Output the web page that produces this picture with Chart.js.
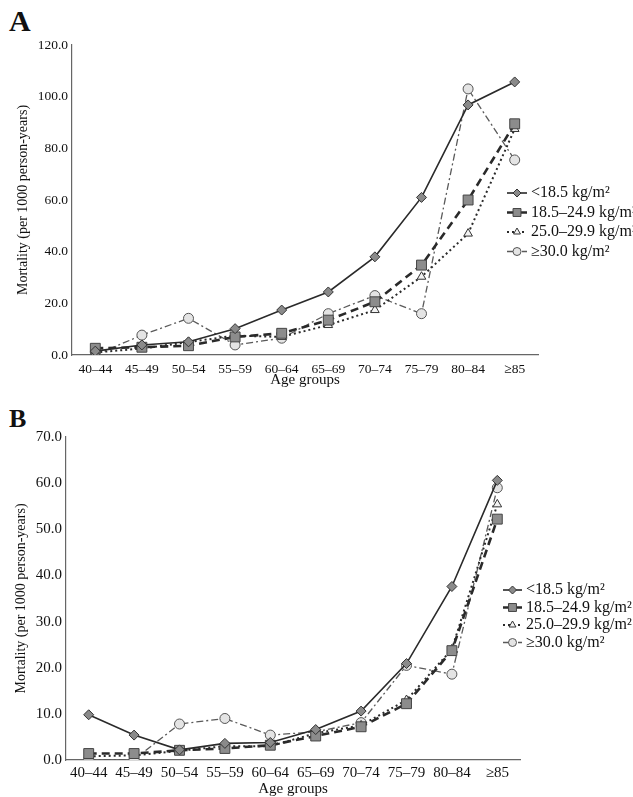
<!DOCTYPE html>
<html>
<head>
<meta charset="utf-8">
<script src="https://cdn.jsdelivr.net/npm/chart.js@4.4.1/dist/chart.umd.min.js"></script>
<style>
  html, body { margin: 0; padding: 0; background: #fff; width: 633px; height: 797px; overflow: hidden; }
  canvas { position: absolute; left: 0; }
  .panel { position: absolute; font-family: "Liberation Serif", serif; font-weight: bold; color: #111; }
</style>
</head>
<body>
<div class="panel" style="left:9px; top:4px; font-size:30px;">A</div>
<div class="panel" style="left:9px; top:404px; font-size:26px;">B</div>
<canvas id="chartA" width="633" height="395" style="top:0"></canvas>
<canvas id="chartB" width="633" height="410" style="top:395px"></canvas>
<script>
// age categories on the x axis
const ageGroups = ['40–44', '45–49', '50–54', '55–59', '60–64', '65–69', '70–74', '75–79', '80–84', '≥85'];
const bmiLabels = ['<18.5 kg/m²', '18.5–24.9 kg/m²', '25.0–29.9 kg/m²', '≥30.0 kg/m²'];

// Panel A, mortality per 1000 person-years
const underA  = [1.5, 3.9, 5.1, 10.2, 17.4, 24.4, 38.0, 61.0, 96.8, 105.7];
const normalA = [2.6, 3.0, 3.6, 7.0, 8.4, 13.5, 20.6, 34.8, 60.0, 89.5];
const overA   = [1.0, 2.5, 5.0, 7.5, 7.0, 11.6, 17.4, 30.3, 47.0, 87.5];
const obeseA  = [0.0, 7.7, 14.2, 3.9, 6.5, 16.0, 23.0, 16.0, 103.0, 75.5];

// Panel B
const underB  = [9.8, 5.4, 2.2, 3.6, 3.8, 6.6, 10.6, 20.9, 37.6, 60.6];
const normalB = [1.4, 1.4, 2.1, 2.5, 3.2, 5.2, 7.2, 12.2, 23.7, 52.2];
const overB   = [0.8, 1.0, 2.0, 3.0, 3.0, 5.8, 7.5, 13.0, 24.0, 55.4];
const obeseB  = [0.1, 0.1, 7.8, 9.0, 5.4, 6.1, 8.1, 20.5, 18.6, 59.0];

const yTitle = 'Mortality (per 1000 person-years)';
const xTitle = 'Age groups';

const FONT = '"Liberation Serif", "Times New Roman", serif';

// line / marker styles per BMI group
const styles = [
  { borderColor: '#2a2a2a', borderWidth: 1.6, borderDash: [], pointStyle: 'rectRot', pointRadius: 5, pointBackgroundColor: '#8a8a8a', pointBorderColor: '#333' },
  { borderColor: '#2a2a2a', borderWidth: 2.6, borderDash: [8, 5], pointStyle: 'rect', pointRadius: 7, pointBackgroundColor: '#8c8c8c', pointBorderColor: '#444' },
  { borderColor: '#2a2a2a', borderWidth: 2, borderDash: [2, 3], pointStyle: 'triangle', pointRadius: 5, pointBackgroundColor: '#f2f2f2', pointBorderColor: '#333' },
  { borderColor: '#5a5a5a', borderWidth: 1.3, borderDash: [7, 3, 2, 3], pointStyle: 'circle', pointRadius: 5, pointBackgroundColor: '#e4e4e4', pointBorderColor: '#555' }
];

// draws the legend inside the canvas, line sample + marker + text
const insideLegend = {
  id: 'insideLegend',
  afterDraw(chart, args, opts) {
    const ctx = chart.ctx;
    ctx.save();
    chart.data.datasets.forEach((ds, i) => {
      const y = opts.y + i * opts.gap;
      ctx.setLineDash(ds.borderDash || []);
      ctx.lineWidth = ds.borderWidth;
      ctx.strokeStyle = ds.borderColor;
      ctx.beginPath();
      ctx.moveTo(opts.x, y);
      ctx.lineTo(opts.x + opts.len, y);
      ctx.stroke();
      ctx.setLineDash([]);
      ctx.lineWidth = 1;
      ctx.fillStyle = ds.pointBackgroundColor;
      ctx.strokeStyle = ds.pointBorderColor;
      Chart.helpers.drawPoint(ctx, { pointStyle: ds.pointStyle, radius: ds.pointRadius * 0.8, rotation: 0, borderWidth: 1 }, opts.x + opts.len / 2, y);
      ctx.fillStyle = '#111';
      ctx.font = opts.size + 'px ' + FONT;
      ctx.textBaseline = 'middle';
      ctx.fillText(ds.label, opts.x + opts.len + 4, y);
    });
    ctx.restore();
  }
};

function makeChart(id, series, yMax, step, box) {
  new Chart(document.getElementById(id), {
    type: 'line',
    data: {
      labels: ageGroups,
      datasets: series.map((d, i) => Object.assign({
        label: bmiLabels[i],
        data: d,
        fill: false,
        tension: 0,
        pointBorderWidth: 1
      }, styles[i]))
    },
    options: {
      responsive: false,
      animation: false,
      layout: { padding: { left: 0, right: box.right, top: box.top, bottom: 0 } },
      plugins: {
        legend: { display: false },
        tooltip: { enabled: false },
        insideLegend: box.legend
      },
      scales: {
        x: {
          offset: true,
          grid: { display: false, drawTicks: false },
          border: { color: '#666', width: 1.2 },
          ticks: { color: '#111', font: { family: FONT, size: box.tick }, padding: box.tickPad, maxRotation: 0, autoSkip: false },
          title: { display: true, text: xTitle, color: '#111', font: { family: FONT, size: 15 }, padding: { top: 0, bottom: box.titlePad } },
          afterFit: s => { s.height = box.xh; }
        },
        y: {
          min: 0,
          max: yMax,
          grid: { display: false, drawTicks: false },
          border: { color: '#666', width: 1.2 },
          ticks: { stepSize: step, color: '#111', font: { family: FONT, size: box.tick }, padding: 4, callback: v => v.toFixed(1) },
          title: { display: true, text: yTitle, color: '#111', font: { family: FONT, size: 14 }, padding: { top: box.yTitlePad, bottom: 0 } },
          afterFit: s => { s.width = box.left; }
        }
      }
    },
    plugins: [insideLegend]
  });
}

makeChart('chartA', [underA, normalA, overA, obeseA], 120, 20, {
  left: 72, right: 95, top: 45, xh: 40, tick: 13.5, tickPad: 6, titlePad: 6, yTitlePad: 15,
  legend: { x: 507, y: 193, gap: 19.5, len: 20, size: 16 }
});

makeChart('chartB', [underB, normalB, overB, obeseB], 70, 10, {
  left: 66, right: 113, top: 42, xh: 45, tick: 15, tickPad: 4, titlePad: 7, yTitlePad: 13,
  legend: { x: 503, y: 195, gap: 17.5, len: 19, size: 16 }
});
</script>
</body>
</html>
